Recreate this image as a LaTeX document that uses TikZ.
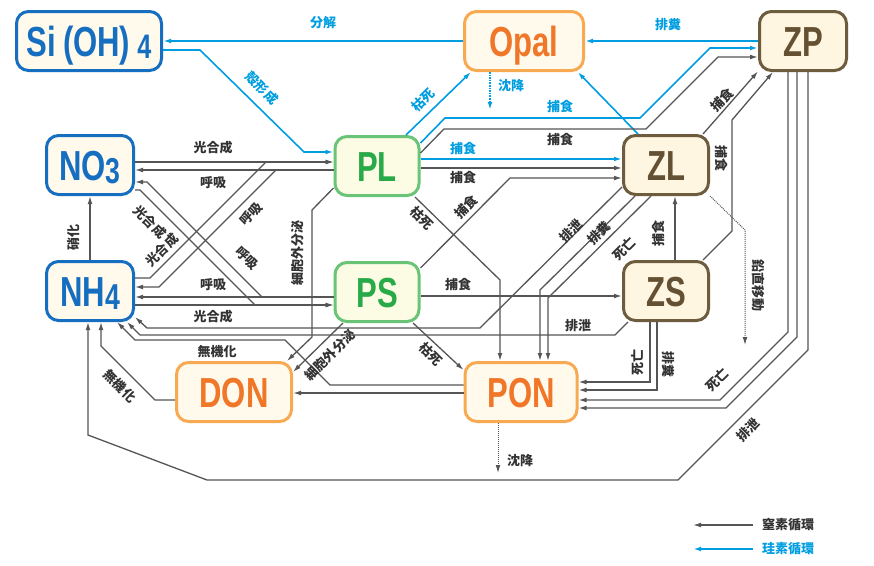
\documentclass[tikz,border=0pt]{standalone}
\usepackage{fontspec}
\newfontfamily\jp{Noto Sans CJK JP}
\newfontfamily\boxfont{Liberation Sans}[FakeStretch=0.74]
\usepackage{tikz}
\usetikzlibrary{arrows.meta,positioning,calc}
\definecolor{siblue}    {RGB}{22,110,192}
\definecolor{lineblue}  {RGB}{0,158,224}
\definecolor{plgreen}   {RGB}{40,170,72}
\definecolor{plborder}  {RGB}{105,196,120}
\definecolor{detorange} {RGB}{240,118,40}
\definecolor{detborder} {RGB}{248,170,82}
\definecolor{zoobrown}  {RGB}{100,80,50}
\definecolor{zooborder} {RGB}{110,92,62}
\definecolor{boxcream}  {RGB}{255,250,236}
\definecolor{plcream}   {RGB}{252,252,228}
\definecolor{zoocream}  {RGB}{255,246,226}
\definecolor{arrowgray} {RGB}{85,85,85}
\definecolor{labgray}   {RGB}{50,50,50}

\begin{document}
\begin{tikzpicture}[x=1pt, y=-1pt, >={Latex[length=8pt,width=4.8pt]},
  box/.style={rounded corners=12pt, line width=3pt, minimum height=59pt,
              inner sep=0pt, text height=30pt, text depth=0pt,
              font=\boxfont\bfseries\fontsize{42}{42}\selectfont},
  boxblue/.style={box, draw=siblue, fill=boxcream, text=siblue},
  boxgreen/.style={box, draw=plborder, fill=plcream, text=plgreen},
  boxorange/.style={box, draw=detborder, fill=boxcream, text=detorange},
  boxbrown/.style={box, draw=zooborder, fill=zoocream, text=zoobrown},
  eN/.style={draw=arrowgray, line width=1.3pt, ->},
  eS/.style={draw=lineblue, line width=1.6pt, ->},
  lab/.style={inner sep=0pt, text=labgray,
              font=\jp\bfseries\fontsize{13}{13}\selectfont},
  labS/.style={lab, text=lineblue},
]
\fill[white] (0,0) rectangle (874,565);
\useasboundingbox (0,0) rectangle (874,565);

% Pools
\node[boxblue,   minimum width=145pt] (si)   at (89,41)  {Si\,(OH)\,\raisebox{-2pt}{\fontsize{34}{34}\selectfont 4}};
\node[boxorange, minimum width=119pt] (opal) at (524,41) {Opal};
\node[boxbrown,  minimum width=87pt]  (zp)   at (803,41) {ZP};
\node[boxblue,   minimum width=87pt]  (no3)  at (90,165) {NO\raisebox{-3pt}{\fontsize{36}{36}\selectfont 3}};
\node[boxblue,   minimum width=87pt]  (nh4)  at (90,291) {NH\raisebox{-3pt}{\fontsize{36}{36}\selectfont 4}};
\node[boxgreen,  minimum width=84pt]  (pl)   at (377,166) {PL};
\node[boxgreen,  minimum width=84pt]  (ps)   at (377,292) {PS};
\node[boxbrown,  minimum width=85pt]  (zl)   at (666,165) {ZL};
\node[boxbrown,  minimum width=85pt]  (zs)   at (666,291) {ZS};
\node[boxorange, minimum width=115pt] (don)  at (234,392) {DON};
\node[boxorange, minimum width=112pt] (pon)  at (521,392) {PON};

% Silicon cycle
\draw[eS] (opal.west) -- (si.east);
\draw[eS] (si.east |- 0,50) -- (200,50) -- (304,152) -- (pl.west |- 0,152);
\draw[eS] (pl.north -| 406,0) -- (opal.south -| 471,0);
\coordinate (opalsink) at (490,110);
\draw[eS, densely dotted] (opal.south -| 490,0) -- (opalsink);
\draw[eS] (zp.west) -- (opal.east);
\draw[eS] (zl.north -| 638,0) -- (opal.-30);
\draw[eS] (pl.east |- 0,143) -- (445,118) -- (640,118) -- (710,48) -- (zp.west |- 0,48);
\draw[eS] (pl.east |- 0,159) -- (zl.west |- 0,159);

\node[labS] (lbunkai)  at (323,23)  {分解};
\node[labS, rotate=-45] (lkaku) at (262,88) {殻形成};
\node[labS, rotate=45]  (lkoshiS) at (423,100) {枯死};
\node[labS] (lchinS)   at (511,86)  {沈降};
\node[labS] (lhaifunS) at (668,25)  {排糞};
\node[labS] (lhoZPs)   at (560,107) {捕食};
\node[labS] (lhoZLs)   at (463,149) {捕食};

% Nitrogen cycle: grazing
\draw[eN] (pl.east |- 0,153) -- (444,129) -- (646,129) -- (718,57) -- (zp.west |- 0,57);
\draw[eN] (pl.east |- 0,168) -- (zl.west |- 0,168);
\draw[eN] (ps.east |- 0,268) -- (510,178) -- (zl.west |- 0,178);
\draw[eN] (ps.east |- 0,296) -- (zs.west |- 0,296);
\draw[eN] (zs.north -| 675,0) -- (zl.south -| 675,0);
\draw[eN] (zl.north -| 703,0) -- (zp.214);
\draw[eN] (zs.40) -- (732,231) -- (732,120) -- (zp.south -| 773,0);
\coordinate (zlsink) at (745,345);
\draw[eN, line width=1pt, densely dotted] (zl.south east) -- (745,230) -- (zlsink);

\node[lab] (lhoZPn) at (560,140) {捕食};
\node[lab] (lhoZLn) at (463,178) {捕食};
\node[lab, rotate=45] (lhoPS) at (466,207) {捕食};
\node[lab] (lhoZS) at (458,285) {捕食};
\node[lab, rotate=90] (lhoZSZL) at (659,233) {捕食};
\node[lab, rotate=45] (lhoZLZP) at (722,100) {捕食};
\node[lab, rotate=-90] (lhoZSZP) at (721,158) {捕食};
\node[lab, rotate=-90] (lenchoku) at (758,285) {鉛直移動};

% Nitrogen cycle: uptake and respiration
\draw[eN] (no3.east |- 0,162) -- (pl.west |- 0,162);
\draw[eN] (pl.west |- 0,170) -- (no3.east |- 0,170);
\draw[eN] (nh4.east |- 0,278) -- (150,278) -- (266,162) -- (pl.west |- 0,162);
\draw[eN] (pl.west |- 0,170) -- (276,170) -- (159,287) -- (nh4.east |- 0,287);
\draw[eN] (ps.west |- 0,297) -- (262,297) -- (147,182) -- (no3.east |- 0,182);
\draw[eN] (no3.east |- 0,190) -- (140,190) -- (255,305) -- (ps.west |- 0,305);
\draw[eN] (ps.west |- 0,297) -- (nh4.east |- 0,297);
\draw[eN] (nh4.east |- 0,305) -- (ps.west |- 0,305);
\draw[eN] (nh4.north) -- (no3.south);

\node[lab] (lkoA) at (213,148) {光合成};
\node[lab] (lkyA) at (213,183) {呼吸};
\node[lab, rotate=-45] (lkoB) at (150,222) {光合成};
\node[lab, rotate=45]  (lkoC) at (162,250) {光合成};
\node[lab, rotate=45]  (lkyB) at (251,214) {呼吸};
\node[lab, rotate=-45] (lkyC) at (247,258) {呼吸};
\node[lab] (lkyD) at (213,285) {呼吸};
\node[lab] (lkoD) at (213,317) {光合成};
\node[lab, rotate=90] (lshoka) at (74,237) {硝化};

% Nitrogen cycle: detritus
\draw[eN] (pl.south -| 415,0) -- (500,280) -- (pon.north -| 500,0);
\draw[eN] (ps.south -| 413,0) -- (pon.west |- 0,370);
\draw[eN] (pl.west |- 0,188) -- (312,210) -- (312,337) -- (don.north -| 287,0);
\draw[eN] (ps.south -| 343,0) -- (don.east |- 0,372);
\draw[eN] (pon.west |- 0,393) -- (don.east |- 0,393);
\draw[eN] (pon.west |- 0,385) -- (330,385) -- (285,340) -- (135,340) -- (nh4.south -| 117,0);
\draw[eN] (don.west |- 0,400) -- (155,400) -- (101,346) -- (nh4.south -| 101,0);
\coordinate (ponsink) at (498,473);
\draw[eN, line width=1pt, densely dotted] (pon.south -| 498,0) -- (ponsink);

\node[lab, rotate=-45] (lkoshiL) at (422,218) {枯死};
\node[lab, rotate=-45] (lkoshiP) at (431,354) {枯死};
\node[lab, rotate=90]  (lsaiA) at (298,253) {細胞外分泌};
\node[lab, rotate=45]  (lsaiB) at (330,355) {細胞外分泌};
\node[lab] (lmukiA) at (217,352) {無機化};
\node[lab, rotate=-45] (lmukiB) at (120,386) {無機化};
\node[lab] (lchinN) at (520,461) {沈降};

% Nitrogen cycle: zooplankton losses
\draw[eN] (zl.west |- 0,187) -- (480,328) -- (147,328) -- (nh4.east |- 0,317);
\draw[eN] (zl.south -| 635,0) -- (540,290) -- (pon.north -| 540,0);
\draw[eN] (zl.south -| 651,0) -- (548,298) -- (pon.north -| 548,0);
\draw[eN] (zs.south -| 628,0) -- (615,335) -- (140,335) -- (nh4.south -| 127,0);
\draw[eN] (zs.south -| 650,0) -- (650,382) -- (pon.east |- 0,382);
\draw[eN] (zs.south -| 657,0) -- (657,390) -- (pon.east |- 0,390);
\draw[eN] (zp.south -| 788,0) -- (788,332) -- (720,400) -- (pon.east |- 0,400);
\draw[eN] (zp.south -| 797,0) -- (797,337) -- (726,408) -- (pon.east |- 0,408);
\draw[eN] (zp.south -| 808,0) -- (808,350) -- (678,480) -- (207,480) -- (88,435) -- (nh4.south -| 88,0);

\node[lab, rotate=45] (lhaisetsuL) at (571,231) {排泄};
\node[lab, rotate=45] (lhaifunL) at (599,233) {排糞};
\node[lab, rotate=45] (lshiboL) at (624,249) {死亡};
\node[lab] (lhaisetsuS) at (578,326) {排泄};
\node[lab, rotate=90]  (lshiboS) at (638,362) {死亡};
\node[lab, rotate=-90] (lhaifunSZ) at (668,364) {排糞};
\node[lab, rotate=45] (lshiboP) at (717,380) {死亡};
\node[lab, rotate=45] (lhaisetsuP) at (748,430) {排泄};

% Legend (bottom right)
\node[lab, anchor=west] (legN) at (762,525) {窒素循環};
\node[labS, anchor=west] (legS) at (762,549) {珪素循環};
\coordinate (legNtip) at (693,525);
\coordinate (legStip) at (693,549);
\draw[eN] ([xshift=-9pt]legN.west) -- (legNtip);
\draw[eS] ([xshift=-9pt]legS.west) -- (legStip);

\end{tikzpicture}
\end{document}
